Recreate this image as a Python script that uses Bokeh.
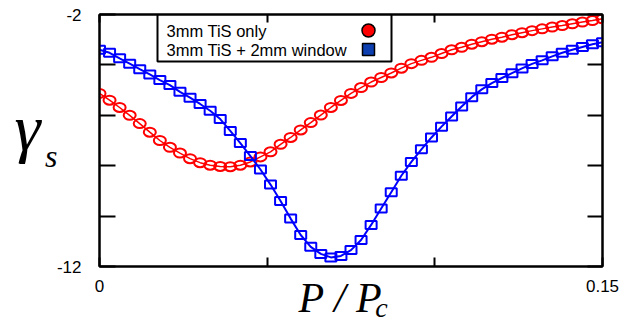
from bokeh.plotting import figure
from bokeh.models import (LinearAxis, FixedTicker, CustomJSTickFormatter,
                          BoxAnnotation, Range1d, ColumnDataSource, Label)
from bokeh.embed import file_html
from bokeh.resources import INLINE

# ---- data ----
p_over_pc = [0.000, 0.003, 0.006, 0.009, 0.012, 0.015, 0.018, 0.021, 0.024, 0.027,
             0.030, 0.033, 0.036, 0.039, 0.042, 0.045, 0.048, 0.051, 0.054, 0.057,
             0.060, 0.063, 0.066, 0.069, 0.072, 0.075, 0.078, 0.081, 0.084, 0.087,
             0.090, 0.093, 0.096, 0.099, 0.102, 0.105, 0.108, 0.111, 0.114, 0.117,
             0.120, 0.123, 0.126, 0.129, 0.132, 0.135, 0.138, 0.141, 0.144, 0.147,
             0.150]

gamma_tis_only = [-5.13, -5.40, -5.69, -6.00, -6.33, -6.67, -7.00, -7.27, -7.50, -7.72,
                  -7.88, -7.98, -8.03, -8.04, -7.98, -7.85, -7.65, -7.45, -7.15, -6.88,
                  -6.58, -6.29, -5.99, -5.69, -5.41, -5.13, -4.90, -4.68, -4.50, -4.32,
                  -4.13, -3.95, -3.82, -3.70, -3.55, -3.40, -3.30, -3.18, -3.08, -2.98,
                  -2.90, -2.80, -2.72, -2.64, -2.57, -2.50, -2.44, -2.37, -2.30, -2.24,
                  -2.17]

gamma_tis_window = [-3.40, -3.52, -3.74, -3.95, -4.17, -4.38, -4.60, -4.80, -5.07, -5.30,
                    -5.55, -5.82, -6.15, -6.62, -7.10, -7.62, -8.15, -8.75, -9.40, -10.10,
                    -10.75, -11.22, -11.50, -11.64, -11.58, -11.35, -10.95, -10.35, -9.70, -9.05,
                    -8.40, -7.85, -7.35, -6.88, -6.45, -6.05, -5.65, -5.28, -4.97, -4.72,
                    -4.52, -4.33, -4.14, -3.96, -3.82, -3.66, -3.52, -3.40, -3.29, -3.18,
                    -3.10]

series_names = ["3mm TiS only", "3mm TiS + 2mm window"]

x_ticks = [0, 0.05, 0.1, 0.15]
x_tick_labels = ["0", "", "", "0.15"]
y_ticks = [-12, -10, -8, -6, -4, -2]
y_tick_labels = ["-12", "", "", "", "", "-2"]

y_title_main = "γ"
y_title_sub = "s"
x_title_main = "P / P"
x_title_sub = "c"

X0, X1 = 0.0, 0.15
Y0, Y1 = -12.0, -2.0

# ---- layout helpers (page pixels -> data coords, for annotations only) ----
FL, FR, FT, FB = 99, 602, 14, 266
def px2x(px):
    return X0 + (px - FL) / (FR - FL) * (X1 - X0)
def py2y(py):
    return Y1 - (py - FT) / (FB - FT) * (Y1 - Y0)

p = figure(width=619, height=326, output_backend="svg", toolbar_location=None,
           x_range=Range1d(X0, X1), y_range=Range1d(Y0, Y1),
           x_axis_location=None, y_axis_location=None,
           min_border_left=FL, min_border_right=619 - FR, min_border_top=FT,
           min_border_bottom=326 - FB)
p.xgrid.visible = False
p.ygrid.visible = False
p.outline_line_color = "black"
p.outline_line_width = 2
p.background_fill_color = "white"
p.border_fill_color = "white"

def fmt(tick_vals, tick_labs):
    return CustomJSTickFormatter(args=dict(tv=tick_vals, tl=tick_labs), code="""
        for (let i = 0; i < tv.length; i++) {
            if (Math.abs(tick - tv[i]) < 1e-9) return tl[i];
        }
        return "";
    """)

FONT = "Liberation Sans"
SERIF = "Liberation Serif"

def style_axis(ax, tick_in, show_labels, standoff):
    ax.axis_line_color = "black"
    ax.axis_line_width = 2
    ax.major_tick_line_color = "black"
    ax.major_tick_line_width = 2
    ax.major_tick_in = tick_in
    ax.major_tick_out = 0
    ax.minor_tick_line_color = None
    ax.major_label_standoff = standoff
    ax.major_label_text_font = FONT
    ax.major_label_text_color = "black"
    ax.major_label_text_font_size = "17px" if show_labels else "0px"

def text_axis(tick_val, text, size, standoff):
    ax = LinearAxis(ticker=FixedTicker(ticks=[tick_val]), formatter=fmt([tick_val], [text]))
    ax.axis_line_color = None
    ax.major_tick_line_color = None
    ax.minor_tick_line_color = None
    ax.major_tick_in = 0
    ax.major_tick_out = 0
    ax.major_label_standoff = standoff
    ax.major_label_text_font = SERIF
    ax.major_label_text_font_style = "italic"
    ax.major_label_text_font_size = size
    ax.major_label_text_color = "black"
    return ax

# left: ticks + labels, then subscript "s", then gamma
left = LinearAxis(ticker=FixedTicker(ticks=y_ticks), formatter=fmt(y_ticks, y_tick_labels))
style_axis(left, 16, True, 18)
p.add_layout(left, "left")
p.add_layout(text_axis(py2y(155), y_title_sub, "32px", -4), "left")
p.add_layout(text_axis(py2y(127), y_title_main, "66px", 2), "left")

right = LinearAxis(ticker=FixedTicker(ticks=y_ticks), formatter=fmt(y_ticks, ["" for _ in y_ticks]))
style_axis(right, 15, False, 0)
p.add_layout(right, "right")

# bottom: ticks + labels, then subscript "c" (tick label) with "P / P" as axis label
bottom = LinearAxis(ticker=FixedTicker(ticks=x_ticks), formatter=fmt(x_ticks, x_tick_labels))
style_axis(bottom, 9, True, 13)
p.add_layout(bottom, "below")
xt = text_axis(px2x(381), x_title_sub, "28px", -3)
xt.axis_label = x_title_main + "\u2002"
xt.axis_label_text_font = SERIF
xt.axis_label_text_font_style = "italic"
xt.axis_label_text_font_size = "42px"
xt.axis_label_text_color = "black"
xt.axis_label_standoff = -51
p.add_layout(xt, "below")

top = LinearAxis(ticker=FixedTicker(ticks=x_ticks), formatter=fmt(x_ticks, ["" for _ in x_ticks]))
style_axis(top, 8, False, 0)
p.add_layout(top, "above")

src = ColumnDataSource(dict(x=p_over_pc, red=gamma_tis_only, blue=gamma_tis_window))

# red series: line + open ellipses
p.line("x", "red", source=src, line_color="#ff0000", line_width=1.5)
p.ellipse("x", "red", source=src, width=12, height=9, width_units="screen",
          height_units="screen", fill_color=None, line_color="#ff0000", line_width=2)

# blue series: line + open squares
p.line("x", "blue", source=src, line_color="#0000ff", line_width=2)
p.rect("x", "blue", source=src, width=11, height=8, width_units="screen",
       height_units="screen", fill_color=None, line_color="#0000ff", line_width=2)

# ---- legend (manual, markers on the right) ----
box = BoxAnnotation(left=px2x(157), right=px2x(391), top=Y1, bottom=py2y(61),
                    fill_color="white", fill_alpha=1.0, line_color="black",
                    line_alpha=1.0, line_width=2, level="underlay")
p.add_layout(box)
legend_src = ColumnDataSource(dict(x=[px2x(368), px2x(368)], y=[py2y(30), py2y(49)],
                                   marker=["circle", "square"],
                                   size=[13, 12], color=["#ff0000", "#0d3fb0"]))
p.scatter("x", "y", source=legend_src, marker="marker", size="size",
          fill_color="color", line_color="black", line_width=1.5)
for name, py in zip(series_names, [30, 49]):
    p.add_layout(Label(x=px2x(166), y=py2y(py), text=name, text_font=FONT,
                       text_font_size="16.5px", text_baseline="middle", text_align="left",
                       text_color="black"))

open("out.html", "w").write(file_html(p, INLINE))
